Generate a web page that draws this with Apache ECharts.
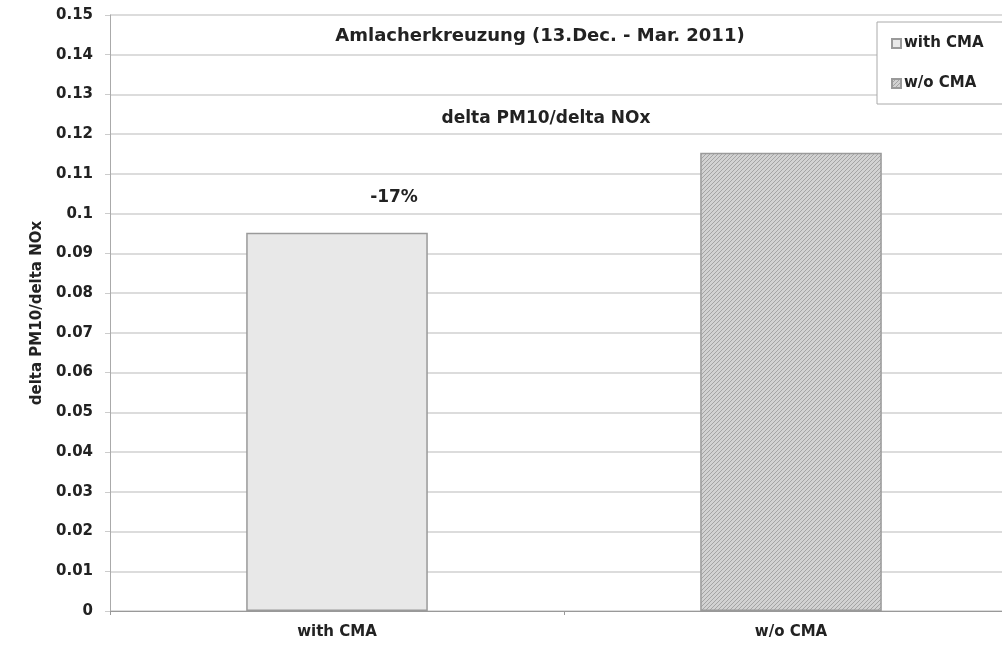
<!DOCTYPE html>
<html>
<head>
<meta charset="utf-8">
<script src="https://cdn.jsdelivr.net/npm/echarts@6/dist/echarts.min.js"></script>
<style>
  html, body { margin: 0; padding: 0; background: #fff; overflow: hidden; }
  /* the plot runs past the right edge of the picture, as in the original */
  #chart { width: 1018px; height: 648px; }
</style>
</head>
<body>
<div id="chart"></div>
<script>
  // data
  var categories = ['with CMA', 'w/o CMA']
  var withCma = [0.0952, null]
  var woCma = [null, 0.1153]
  var changeLabel = '-17%'
  var chartTitle = 'Amlacherkreuzung (13.Dec. - Mar. 2011)'
  var subTitle = 'delta PM10/delta NOx'
  var yName = 'delta PM10/delta NOx'

  var font = 'DejaVu Sans, Liberation Sans, Arial, sans-serif'

  // hatched fill for the second bar
  function hatch () {
    var c = document.createElement('canvas')
    c.width = 4
    c.height = 4
    var ctx = c.getContext('2d')
    ctx.fillStyle = '#d2d2d2'
    ctx.fillRect(0, 0, 4, 4)
    ctx.strokeStyle = '#a4a4a4'
    ctx.lineWidth = 1
    ctx.beginPath()
    ctx.moveTo(0, 4)
    ctx.lineTo(4, 0)
    ctx.moveTo(-1, 1)
    ctx.lineTo(1, -1)
    ctx.moveTo(3, 5)
    ctx.lineTo(5, 3)
    ctx.stroke()
    return c
  }

  var chart = echarts.init(document.getElementById('chart'))
  chart.setOption({
    backgroundColor: '#fff',
    animation: false,
    textStyle: { fontFamily: font },
    title: [
      {
        text: chartTitle,
        left: 535,
        top: 22,
        textAlign: 'center',
        textStyle: { fontSize: 18, fontWeight: 'bold', color: '#222', fontFamily: font }
      },
      {
        text: subTitle,
        left: 541,
        top: 105,
        textAlign: 'center',
        textStyle: { fontSize: 17, fontWeight: 'bold', color: '#222', fontFamily: font }
      }
    ],
    legend: {
      orient: 'vertical',
      left: 877,
      top: 22,
      padding: [14, 50, 13, 14],
      itemGap: 25,
      itemWidth: 9,
      itemHeight: 9,
      icon: 'rect',
      backgroundColor: '#fff',
      borderColor: '#aaa',
      borderWidth: 1,
      textStyle: { fontSize: 15, fontWeight: 'bold', color: '#222', padding: [0, 0, 0, -2], fontFamily: font },
      data: categories
    },
    grid: { left: 110, right: 0, top: 15, bottom: 37 },
    xAxis: {
      type: 'category',
      data: categories,
      axisLine: { lineStyle: { color: '#999' } },
      axisTick: { show: true, length: 4, lineStyle: { color: '#999' } },
      axisLabel: { fontSize: 15, fontWeight: 'bold', color: '#222', margin: 14, fontFamily: font }
    },
    yAxis: {
      type: 'value',
      min: 0,
      max: 0.15,
      interval: 0.01,
      name: yName,
      nameLocation: 'middle',
      nameGap: 61,
      nameTextStyle: { fontSize: 15, fontWeight: 'bold', color: '#222', fontFamily: font },
      axisLine: { show: true, lineStyle: { color: '#aaa' } },
      axisTick: { show: true, length: 5, lineStyle: { color: '#ccc' } },
      axisLabel: { fontSize: 15, fontWeight: 'bold', color: '#222', margin: 17, fontFamily: font },
      splitLine: { lineStyle: { color: '#d0d0d0', width: 1.5 } }
    },
    series: [
      {
        name: categories[0],
        type: 'bar',
        barWidth: '40%',
        barGap: '-100%',
        data: withCma,
        itemStyle: { color: '#e8e8e8', borderColor: '#9a9a9a', borderWidth: 1.5 },
        label: {
          show: true,
          position: 'top',
          offset: [57, -22],
          formatter: changeLabel,
          fontSize: 17,
          fontWeight: 'bold',
          color: '#222',
          fontFamily: font
        }
      },
      {
        name: categories[1],
        type: 'bar',
        barWidth: '40%',
        barGap: '-100%',
        data: woCma,
        itemStyle: {
          color: { image: hatch(), repeat: 'repeat' },
          borderColor: '#9a9a9a',
          borderWidth: 1.5
        }
      }
    ]
  })
</script>
</body>
</html>
